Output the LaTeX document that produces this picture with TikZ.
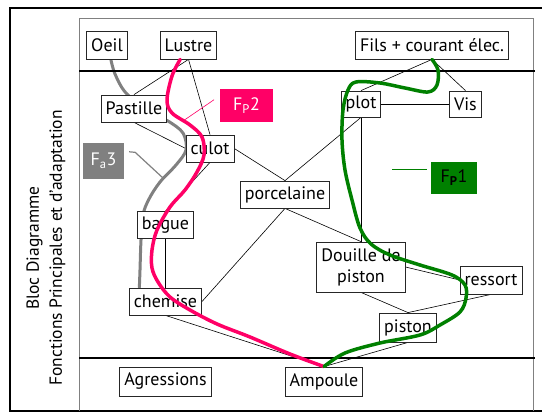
\documentclass[tikz,border=0pt]{standalone}
\usepackage{fontspec}
\setmainfont{PT Sans}
\usepackage{tikz}
\usetikzlibrary{backgrounds}
\definecolor{fpink}{HTML}{FF0066}
\definecolor{fgreen}{HTML}{008000}
\definecolor{fgray}{HTML}{808080}
\tikzset{
  blk/.style={draw=black!85,fill=white,line width=0.8pt,inner xsep=4.5pt,inner ysep=1pt,minimum height=27pt,align=center},
  lnk/.style={draw=black,line width=0.6pt},
  frm/.style={draw=black,line width=2pt},
  sep/.style={draw=black,line width=1.6pt},
  tag/.style={inner sep=0pt,align=center,font=\fontsize{18}{20}\selectfont},
  fcurve/.style={line width=3.5pt,line cap=round,line join=round},
}

\begin{document}
\begin{tikzpicture}[x=1pt,y=-1pt,font=\fontsize{18}{20}\selectfont]
  \useasboundingbox (0,0) rectangle (542,414);
  % cadres
  \draw[frm] (545,8) -- (10,8) -- (10,411) -- (545,411);
  \draw[fgray,line width=1pt] (79,411) -- (79,19) -- (533,19) -- (533,411);
  \draw[sep] (79,71) -- (535,71);
  \draw[sep] (79,358) -- (535,358);
  \node[rotate=90,align=center,font=\fontsize{17.5}{23}\selectfont] (titre) at (46,248) {Bloc Diagramme\\Fonctions Principales et d’adaptation};

  % blocs
  \node[blk,minimum height=28pt] (oeil) at (107,45) {Oeil};
  \node[blk,minimum height=28pt] (lustre) at (188.5,45) {Lustre};
  \node[blk,minimum height=28pt] (fils) at (432,45) {Fils + courant élec.};
  \node[blk] (pastille) at (134,108.5) {Pastille};
  \node[blk] (culot) at (210,148.5) {culot};
  \node[blk,minimum height=26pt] (plot) at (361,104) {plot};
  \node[blk,minimum height=26pt] (vis) at (465.5,104) {Vis};
  \node[blk] (porcelaine) at (285,194.5) {porcelaine};
  \node[blk] (bague) at (165.5,225) {bague};
  \node[blk] (chemise) at (165.5,301.5) {chemise};
  \node[blk,minimum height=50pt] (douille) at (361,267) {Douille de\\[1pt]piston};
  \node[blk,minimum height=28pt] (ressort) at (491,280) {ressort};
  \node[blk,minimum height=29pt] (piston) at (408,327.5) {piston};
  \node[blk,minimum height=29pt] (agressions) at (165.5,381.5) {Agressions};
  \node[blk,minimum height=29pt] (ampoule) at (324,381.5) {Ampoule};

  \begin{scope}[on background layer]
    \draw[lnk] (lustre.south) -- (pastille.north);
    \draw[lnk] (lustre.south) -- (culot.north);
    \draw[lnk] (pastille.south) -- (culot.west);
    \draw[lnk] (culot.south) -- (bague.north);
    \draw[lnk] (culot.east) -- (porcelaine.north);
    \draw[lnk] (plot.south) -- (porcelaine.north);
    \draw[lnk] (porcelaine.south) -- (chemise.east);
    \draw[lnk] (porcelaine.south) -- (douille.north);
    \draw[lnk] (plot.south) -- (douille.north);
    \draw[lnk] (fils.south) -- (plot.north);
    \draw[lnk] (fils.south) -- (vis.north);
    \draw[lnk] (plot.east) -- (vis.west);
    \draw[lnk] (bague.south) -- (chemise.north);
    \draw[lnk] (chemise.south) -- (ampoule.north);
    \draw[lnk] (douille.south) -- (piston.north);
    \draw[lnk] (ressort.south) -- (piston.north);
    \draw[lnk] (douille.east) -- (ressort.west);
    \draw[lnk] (piston.south) -- (ampoule.north);
    % Fa3
    \draw[fcurve,fgray,line width=3pt] plot[smooth,tension=0.55] coordinates {(oeil.-75) (115,74) (126,93) (150,112) (168,121) (183,133) (186,150) (176,165) (160,182) (149,199) (143,215) (141,240) (140,270) (chemise.152)};
  \end{scope}

  % FP2
  \draw[fcurve,fpink] plot[smooth,tension=0.55] coordinates {(lustre.240) (172,76) (167,100) (172,113) (190,125) (202,137) (204,155) (197,172) (185,190) (170,207) (157,230) (152,250) (152,268) (158,282) (170,297) (190,310) (217,324) (250,337) (290,354) (ampoule.north)};
  % FP1
  \draw[fcurve,fgreen] plot[smooth,tension=0.55] coordinates {(fils.south) (438,70) (437,85) (428,92) (405,88) (380,83) (356,82) (348,90) (343,110) (342,140) (345,170) (352,200) (360,228) (371,244) (390,255) (420,265) (452,275) (465,285) (466,298) (460,312) (440,325) (420,335) (380,343) (345,353) (ampoule.north)};

  % etiquettes
  \node[tag,fill=fpink,text=white,minimum width=53pt,minimum height=33pt] (fp2) at (246.5,105.5) {F\textsubscript{P}2};
  \node[tag,fill=fgray,text=white,minimum width=41pt,minimum height=36pt] (fa3) at (103.5,161) {F\textsubscript{a}3};
  \node[tag,fill=fgreen,text=black,minimum width=46pt,minimum height=32pt] (fp1) at (454,178) {F\textsubscript{\textbf{P}}1};
  \coordinate (p2) at (183,121);
  \coordinate (a3) at (163,178);
  \draw[fpink,line width=0.6pt,shorten <=7pt] (fp2.160) -- (p2);
  \draw[fgray,line width=1.2pt,shorten <=5pt] (fa3.25) -- ++(11,1) -- (a3);
  \draw[fgreen,line width=1.2pt,shorten <=4pt] (fp1.160) -- ++(-39,0);
\end{tikzpicture}
\end{document}
